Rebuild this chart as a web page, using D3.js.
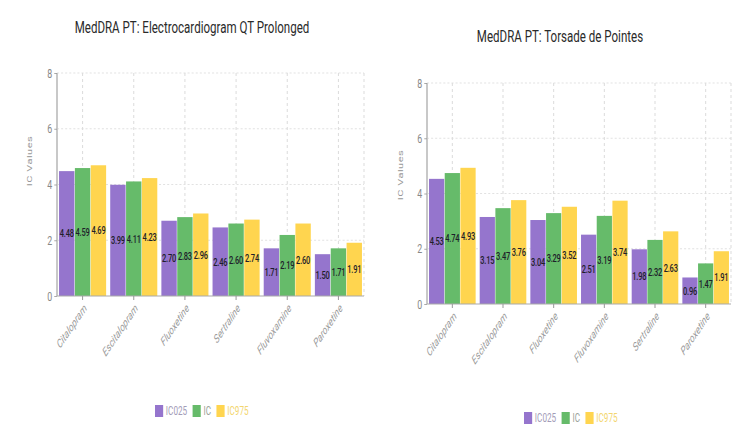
<!DOCTYPE html>
<html>
<head>
<meta charset="utf-8">
<script src="https://cdn.jsdelivr.net/npm/d3@7"></script>
<style>
  html, body { margin: 0; padding: 0; background: #fff; }
  svg { display: block; }
  text { font-family: Roboto, "Open Sans", sans-serif; }
</style>
</head>
<body>
<svg id="chart" width="750" height="426"></svg>
<script>
// ---------- DATA ----------
const seriesNames = ["IC025", "IC", "IC975"];

const qtTitle = "MedDRA PT: Electrocardiogram QT Prolonged";
const qtCategories = ["Citalopram", "Escitalopram", "Fluoxetine", "Sertraline", "Fluvoxamine", "Paroxetine"];
const qtIC025 = [4.48, 3.99, 2.70, 2.46, 1.71, 1.50];
const qtIC    = [4.59, 4.11, 2.83, 2.60, 2.19, 1.71];
const qtIC975 = [4.69, 4.23, 2.96, 2.74, 2.60, 1.91];

const tdpTitle = "MedDRA PT: Torsade de Pointes";
const tdpCategories = ["Citalopram", "Escitalopram", "Fluoxetine", "Fluvoxamine", "Sertraline", "Paroxetine"];
const tdpIC025 = [4.53, 3.15, 3.04, 2.51, 1.98, 0.96];
const tdpIC    = [4.74, 3.47, 3.29, 3.19, 2.32, 1.47];
const tdpIC975 = [4.93, 3.76, 3.52, 3.74, 2.63, 1.91];

const yTicks = [0, 2, 4, 6, 8];
const yTitle = "IC Values";

// ---------- STYLE ----------
const colors = ["#9575cd", "#66bb6a", "#ffd54f"];
const legendTextColors = ["#a39cb8", "#9aa39a", "#f3d66e"];
const SX = 0.68; // horizontal compression of the whole picture

const svg = d3.select("#chart");
const root = svg.append("g").attr("transform", `scale(${SX},1)`);

function drawChart(cfg) {
  const g = root.append("g");
  const x0 = cfg.left / SX, x1 = cfg.right / SX;
  const x = d3.scaleBand().domain(cfg.categories).range([x0, x1]).paddingInner(0.08).paddingOuter(0.04);
  const xc = d3.scaleBand().domain(cfg.categories).range([x0, x1]).padding(0);
  const xs = d3.scaleBand().domain(seriesNames).range([0, x.bandwidth()]).paddingInner(0.03);
  const y = d3.scaleLinear().domain([0, 8]).range([cfg.bottom, cfg.top]);

  // grid
  const grid = g.append("g");
  grid.selectAll("line.h").data(yTicks.filter(d => d > 0)).join("line")
    .attr("x1", x0).attr("x2", x1)
    .attr("y1", d => y(d)).attr("y2", d => y(d))
    .attr("stroke", "#dcdcdc").attr("stroke-width", 1).attr("stroke-dasharray", "3,3");
  grid.selectAll("line.v").data(cfg.categories).join("line")
    .attr("x1", d => xc(d) + xc.bandwidth() / 2).attr("x2", d => xc(d) + xc.bandwidth() / 2)
    .attr("y1", y(8)).attr("y2", y(0))
    .attr("stroke", "#dcdcdc").attr("stroke-width", 1 / SX).attr("stroke-dasharray", "3,3");
  grid.append("line")
    .attr("x1", x1).attr("x2", x1).attr("y1", y(8)).attr("y2", y(0))
    .attr("stroke", "#dcdcdc").attr("stroke-width", 1 / SX).attr("stroke-dasharray", "3,3");

  // bars
  const rows = cfg.categories.map((c, i) => ({
    cat: c,
    vals: seriesNames.map((s, k) => ({ s, k, v: cfg.series[k][i] }))
  }));
  const grp = g.append("g").selectAll("g").data(rows).join("g")
    .attr("transform", d => `translate(${x(d.cat)},0)`);
  grp.selectAll("rect").data(d => d.vals).join("rect")
    .attr("x", d => xs(d.s)).attr("width", xs.bandwidth())
    .attr("y", d => y(d.v)).attr("height", d => y(0) - y(d.v))
    .attr("fill", d => colors[d.k]);
  grp.selectAll("text").data(d => d.vals).join("text")
    .attr("x", d => xs(d.s) + xs.bandwidth() / 2)
    .attr("y", d => (y(d.v) + y(0)) / 2)
    .attr("dy", "0.35em")
    .attr("text-anchor", "middle")
    .attr("font-size", 11)
    .attr("font-weight", 500)
    .attr("letter-spacing", -0.3)
    .attr("fill", "#1e1e2a")
    .text(d => d.v.toFixed(2));

  // y axis
  const ya = g.append("g").attr("transform", `translate(${x0},0)`)
    .call(d3.axisLeft(y).tickValues(yTicks).tickSize(4).tickPadding(3));
  ya.select(".domain").attr("stroke", "#c8c8c8").attr("stroke-width", 2 / SX).attr("d", `M0,${y(8)}V${y(0)}`);
  ya.selectAll(".tick line").attr("stroke", "#999").attr("stroke-width", 1);
  ya.selectAll(".tick text").attr("fill", "#888").attr("font-size", 13).attr("font-family", "Roboto, sans-serif");

  // x axis
  const xa = g.append("g").attr("transform", `translate(0,${y(0)})`)
    .call(d3.axisBottom(xc).tickSize(4).tickPadding(0));
  xa.select(".domain").attr("stroke", "#aaa").attr("stroke-width", 1.2).attr("d", `M${x0},0H${x1}`);
  xa.selectAll(".tick line").attr("stroke", "#999").attr("stroke-width", 1 / SX);
  xa.selectAll(".tick text")
    .attr("fill", "#9a9a9a").attr("font-size", 12).attr("font-style", "italic")
    .attr("font-family", "Roboto, sans-serif")
    .attr("text-anchor", "end")
    .attr("transform", "translate(4,10) rotate(-45)")
    .attr("x", 0).attr("y", 0).attr("dy", "0.35em");

  // y title
  g.append("text")
    .attr("transform", `translate(${cfg.yTitleX / SX},${cfg.yTitleY}) rotate(-90)`)
    .attr("text-anchor", "middle").attr("dy", "0.35em")
    .attr("font-size", 11).attr("fill", "#999").attr("letter-spacing", 0.5)
    .text(yTitle);

  // title
  g.append("text")
    .attr("x", cfg.titleX / SX).attr("y", cfg.titleY)
    .attr("text-anchor", "middle")
    .attr("font-size", 17).attr("font-weight", 400).attr("fill", "#2a2a2a")
    .text(cfg.title);

  // legend
  const lg = g.append("g").attr("transform", `translate(${cfg.legendX / SX},${cfg.legendY})`);
  let cx = 0;
  seriesNames.forEach((s, k) => {
    lg.append("rect").attr("x", cx).attr("y", -6).attr("width", 12).attr("height", 12).attr("fill", colors[k]);
    const t = lg.append("text").attr("x", cx + 16).attr("y", 0).attr("dy", "0.35em")
      .attr("font-size", 12).attr("fill", legendTextColors[k]).text(s);
    cx += 16 + t.node().getComputedTextLength() + 8;
  });
}

drawChart({
  title: qtTitle, categories: qtCategories, series: [qtIC025, qtIC, qtIC975],
  left: 57, right: 364, top: 73, bottom: 296,
  titleX: 192, titleY: 33, yTitleX: 29, yTitleY: 161,
  legendX: 155, legendY: 411
});
drawChart({
  title: tdpTitle, categories: tdpCategories, series: [tdpIC025, tdpIC, tdpIC975],
  left: 427, right: 731, top: 83, bottom: 304,
  titleX: 560, titleY: 42, yTitleX: 400, yTitleY: 175,
  legendX: 524, legendY: 418
});
</script>
</body>
</html>
